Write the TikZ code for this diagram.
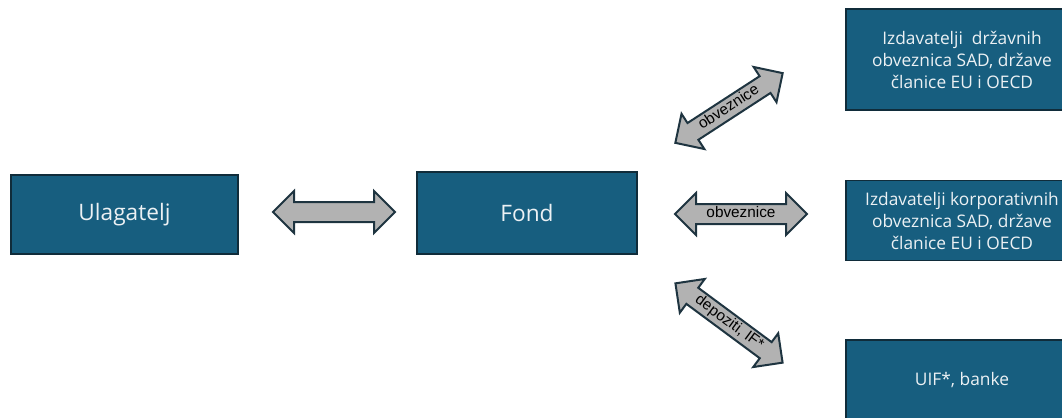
\documentclass[tikz,border=0pt]{standalone}
\usepackage{fontspec}
\setmainfont{Open Sans}
\newfontfamily\labelfont{Liberation Sans}
\usetikzlibrary{shapes.arrows}
\definecolor{boxfill}{RGB}{23,94,127}
\definecolor{boxline}{RGB}{16,44,58}
\definecolor{boxtext}{RGB}{236,241,244}
\definecolor{arrowfill}{RGB}{178,178,178}
\definecolor{arrowline}{RGB}{30,52,64}

\begin{document}
\begin{tikzpicture}[x=0.75pt,y=-0.75pt,
    party/.style={draw=boxline,line width=1.3pt,fill=boxfill,text=boxtext,
      align=center,inner sep=0pt,font=\fontsize{17}{20}\selectfont},
    issuer/.style={party,minimum width=174pt,
      font=\fontsize{13}{16.5}\selectfont},
    flow/.style={double arrow,draw=arrowline,line width=1.5pt,fill=arrowfill,
      double arrow head extend=8.25pt,inner xsep=1pt,inner ysep=0pt,
      text height=9.5pt,text depth=4pt,text=black,
      font=\labelfont\fontsize{11.5}{11.5}\selectfont}]
    \useasboundingbox (0,0) rectangle (1062,417);

    % investors and the fund
    \node [party,minimum width=170pt,minimum height=59pt] (ulag) at (124.5,214.5) {Ulagatelj};
    \node [party,minimum width=165pt,minimum height=61pt] (fond) at (527,213) {Fond};

    % issuers on the right
    \node [issuer,minimum height=76pt] (drz) at (962,59.5)
    {Izdavatelji\ \ državnih\\obveznica SAD, države\\članice EU i OECD};
    \node [issuer,minimum height=60pt] (korp) at (962,220.5)
    {Izdavatelji korporativnih\\obveznica SAD, države\\članice EU i OECD};
    \node [issuer,minimum height=60pt] (uif) at (962,380)
    {UIF*, banke};

    % flows
    \node [flow,minimum height=91.5pt] (f1) at (334,212) {};
    \node [flow,minimum height=99pt] (f2) at (741,214) {obveznice};
    \node [flow,minimum height=96pt,rotate=33] (f3) at (729,108) {obveznice};
    \node [flow,minimum height=100pt,rotate=-36.5] (f4) at (729,323) {depoziti, IF*};
\end{tikzpicture}
\end{document}
